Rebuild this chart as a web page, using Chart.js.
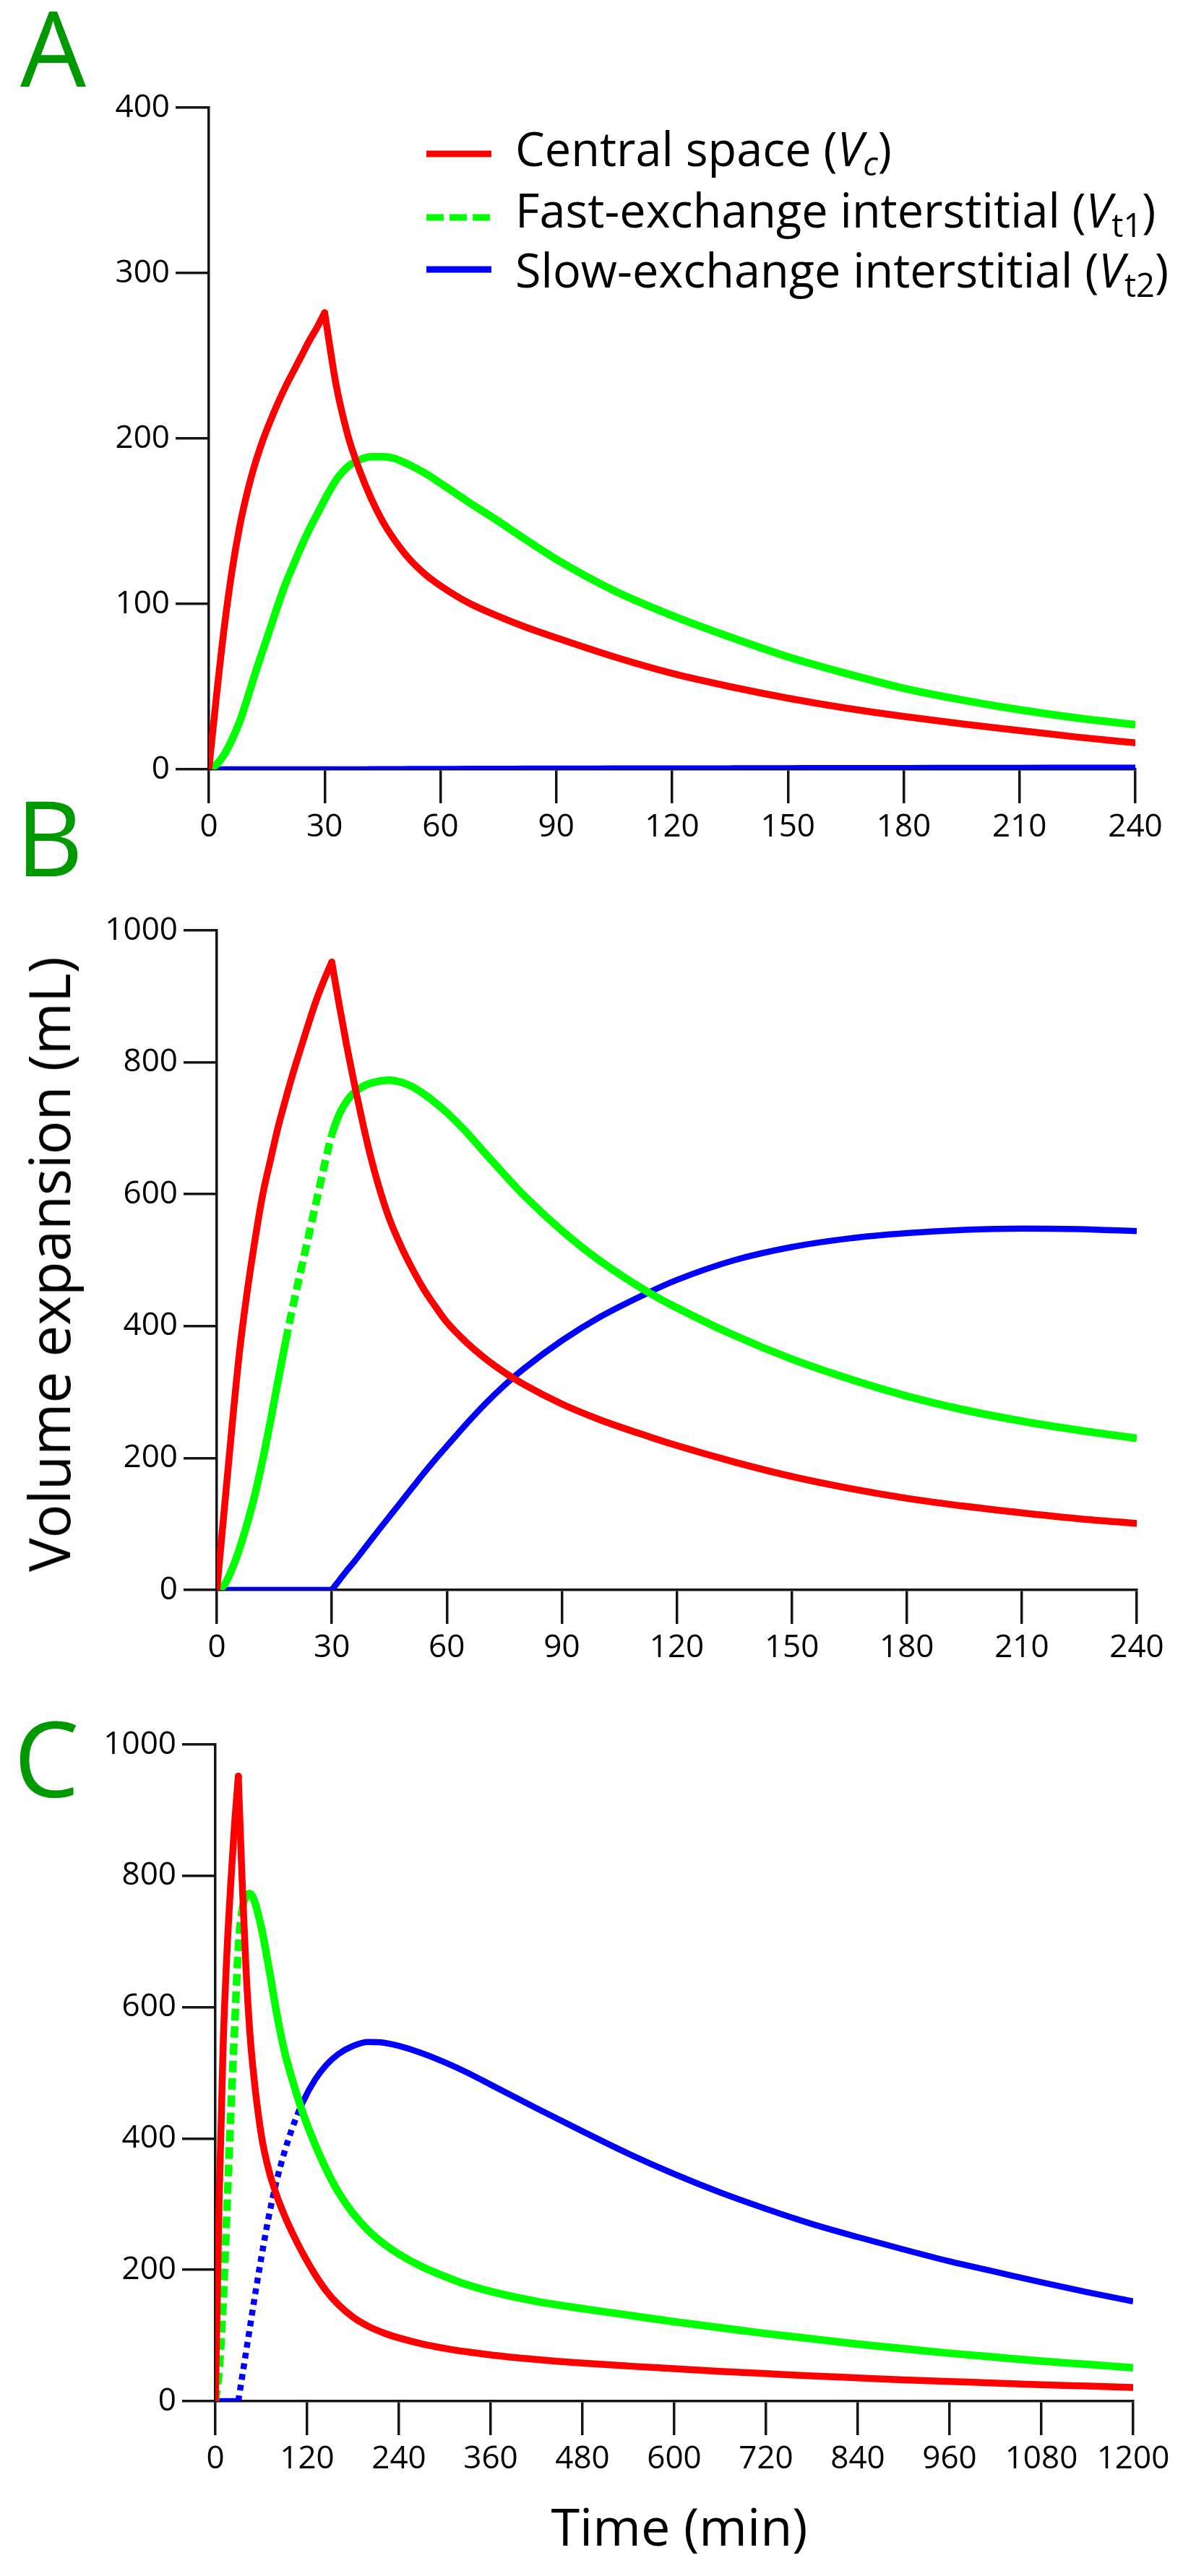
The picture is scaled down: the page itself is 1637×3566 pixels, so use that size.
<!DOCTYPE html>
<html>
<head>
<meta charset="utf-8">
<title>Volume expansion</title>
<script src="https://cdn.jsdelivr.net/npm/chart.js@4.4.1/dist/chart.umd.min.js"></script>
<style>
    html, body { margin: 0; padding: 0; background: #fff; }
    #page { position: relative; width: 1637px; height: 3566px; overflow: hidden; font-family: 'Open Sans', sans-serif; }
    .panel { position: absolute; left: 0; width: 1637px; }
    .letter { position: absolute; font-size: 144px; line-height: 1; color: #009900; }
    .axis-title { position: absolute; line-height: 1; color: #000; white-space: nowrap; transform: translate(-50%, -50%); }
</style>
</head>
<body>
<div id="page">
    <div class="letter" style="left:28px;top:-8px">A</div>
    <div class="letter" style="left:22px;top:1085px">B</div>
    <div class="letter" style="left:19px;top:2360px">C</div>

    <div class="panel" style="top:60px;height:1125px"><canvas id="chartA"></canvas></div>
    <div class="panel" style="top:1200px;height:1121px"><canvas id="chartB"></canvas></div>
    <div class="panel" style="top:2330px;height:1114px"><canvas id="chartC"></canvas></div>

    <div class="axis-title" style="left:67px;top:1750px;font-size:78px;transform:translate(-50%,-50%) rotate(-90deg)">Volume expansion (mL)</div>
    <div class="axis-title" style="left:940px;top:3496px;font-size:72px">Time (min)</div>
</div>
<script>
// infusion stops at 30 min
const infusionEnd = 30;

const seriesColors = ['rgb(255,0,0)', 'rgb(0,255,0)', 'rgb(0,0,255)'];

// legend text, split into plain / italic / subscript parts
const legendCentral = [['Central space (', ''], ['V', 'i'], ['c', 'i sub'], [')', '']];
const legendFast = [['Fast-exchange interstitial (', ''], ['V', 'i'], ['t1', 'sub'], [')', '']];
const legendSlow = [['Slow-exchange interstitial (', ''], ['V', 'i'], ['t2', 'sub'], [')', '']];

// tick labels
const xTicksShort = [0, 30, 60, 90, 120, 150, 180, 210, 240];
const xTicksLong = [0, 120, 240, 360, 480, 600, 720, 840, 960, 1080, 1200];
const yTicksA = [0, 100, 200, 300, 400];
const yTicksBC = [0, 200, 400, 600, 800, 1000];

// panel A
const timeA = [0, 2, 4, 6, 8, 10, 12, 14, 16, 18, 20, 22, 24, 26, 28, 30, 33, 36, 39, 42, 45, 48, 52, 56, 60, 67, 75, 82, 90, 105, 120, 135, 150, 165, 180, 195, 210, 225, 240];
const centralA = [0, 45, 86, 120, 147, 168, 185, 199, 211, 222, 232, 241, 250, 259, 267, 276, 232, 202, 181, 164, 150, 139, 127, 118, 111, 101, 92.5, 86, 79.5, 68, 58, 50, 43, 37, 32, 27.5, 23.5, 19.5, 16];
const fastA = [0, 3, 9, 18, 29, 43, 58, 72, 86, 100, 113, 124, 135, 145, 154, 163, 175, 183, 187, 189, 189, 188, 184, 179, 173, 162, 150, 139, 127, 108, 93, 80, 68, 58, 49, 42, 36, 31, 27];
const slowA = [0, 0, 0, 0, 0, 0, 0, 0, 0, 0, 0, 0, 0, 0, 0, 0, 0, 0, 0, 0.1, 0.1, 0.1, 0.2, 0.2, 0.2, 0.3, 0.3, 0.4, 0.4, 0.5, 0.6, 0.6, 0.7, 0.8, 0.8, 0.9, 0.9, 1, 1];

// panel B
const timeB = [0, 2, 4, 6, 8, 10, 12, 14, 16, 18, 20, 22, 24, 26, 28, 30, 32, 34, 36, 38, 40, 42, 45, 48, 51, 54, 57, 60, 65, 70, 75, 80, 90, 100, 113, 120, 135, 150, 165, 180, 195, 210, 225, 240];
const centralB = [0, 125, 250, 365, 455, 532, 600, 652, 702, 745, 786, 823, 860, 895, 925, 952, 885, 822, 764, 710, 660, 617, 563, 522, 487, 456, 430, 406, 376, 351, 330, 312, 282, 258, 232, 219, 194, 172, 154, 139, 127, 117, 108, 101];
const fastB = [0, 8, 32, 64, 102, 146, 198, 256, 318, 378, 434, 486, 538, 590, 642, 690, 722, 742, 755, 763, 768, 771, 773, 770, 763, 752, 739, 724, 695, 662, 630, 599, 545, 499, 450, 428, 386, 350, 320, 294, 273, 256, 242, 230];
const slowB = [0, 0, 0, 0, 0, 0, 0, 0, 0, 0, 0, 0, 0, 0, 0, 0, 15, 30, 44, 59, 74, 89, 111, 133, 155, 177, 198, 218, 251, 282, 310, 335, 378, 414, 452, 470, 500, 520, 533, 541, 546, 548, 547, 544];

// panel C
const timeC = [0, 5, 10, 15, 20, 25, 30, 35, 40, 45, 50, 60, 70, 80, 90, 100, 115, 130, 145, 160, 180, 200, 220, 240, 270, 300, 330, 360, 420, 480, 540, 600, 660, 720, 780, 840, 900, 960, 1020, 1080, 1140, 1200];
const centralC = [0, 308, 535, 680, 786, 877, 952, 793, 660, 563, 498, 406, 351, 314, 284, 258, 223.5, 193.5, 168, 148, 128, 114, 104, 96.4, 87.4, 80.5, 75, 70.5, 63.5, 58, 53.5, 49.5, 45.5, 42, 38.5, 35.5, 32.5, 30, 27.5, 25, 23, 21];
const fastC = [0, 48, 146, 287, 434, 564, 690, 748, 768, 773, 765, 722, 660, 592, 535, 492, 437, 392, 353, 320, 286, 260, 240, 224, 205, 190, 177, 167, 152, 141, 131, 121, 112, 103, 95, 87, 80, 73, 67, 61, 56, 51];
const slowC = [0, 0, 0, 0, 0, 0, 0, 37, 74, 111, 148, 218, 282, 335, 378, 414, 457, 489, 512, 528, 541, 547, 546, 541, 530, 516, 500, 482, 446, 411, 377, 346, 318, 293, 270, 250, 231, 213, 197, 181, 166, 152];

Chart.defaults.font.family = "'Open Sans', sans-serif";
Chart.defaults.color = '#000';

const axisColor = '#151515';

// dashed only between two times
const dashBetween = (range, pattern) => {
    if (!range) return {};
    return {
        borderDash: ctx => (ctx.p0.parsed.x >= range[0] && ctx.p1.parsed.x <= range[1]) ? pattern : undefined
    };
};

const buildDatasets = (times, central, fast, slow, opts) => {
    const k = times.indexOf(infusionEnd);
    const toPoints = values => times.map((t, i) => ({ x: t, y: values[i] }));
    const c = toPoints(central);
    const f = toPoints(fast);
    const s = toPoints(slow);
    const base = {
        pointRadius: 0,
        fill: false,
        cubicInterpolationMode: 'monotone',
        borderCapStyle: 'round',
        borderJoinStyle: 'round'
    };
    return [
        { ...base, data: c.slice(0, k + 1), borderColor: seriesColors[0], borderWidth: 9.5 },
        { ...base, data: c.slice(k), borderColor: seriesColors[0], borderWidth: 9.5 },
        { ...base, data: f, borderColor: seriesColors[1], borderWidth: 10.5, borderCapStyle: 'butt', segment: dashBetween(opts.fastDash, [16, 8]) },
        { ...base, data: s.slice(0, k + 1), borderColor: seriesColors[2], borderWidth: 8.5 },
        { ...base, data: s.slice(k), borderColor: seriesColors[2], borderWidth: 8.5, borderCapStyle: 'butt', segment: dashBetween(opts.slowDash, [8, 7]) }
    ];
};

// legend drawn inside panel A, with italic V and subscripts
const legendPlugin = {
    id: 'seriesLegend',
    afterDatasetsDraw(chart) {
        const { ctx, chartArea } = chart;
        const size = 66;
        const items = [
            { parts: legendCentral, color: seriesColors[0], dash: [], lineY: 64, baseY: 81 },
            { parts: legendFast, color: seriesColors[1], dash: [24, 8], lineY: 152, baseY: 166 },
            { parts: legendSlow, color: seriesColors[2], dash: [], lineY: 224, baseY: 249 }
        ];
        const setFont = style => {
            const sub = style.includes('sub');
            const italic = style.includes('i');
            ctx.font = `${italic ? 'italic ' : ''}${sub ? Math.round(size * 0.7) : size}px 'Open Sans'`;
            return sub;
        };
        const measure = parts => parts.reduce((w, [text, style]) => {
            setFont(style);
            return w + ctx.measureText(text).width;
        }, 0);

        ctx.save();
        const widest = Math.max(...items.map(it => measure(it.parts)));
        const squeeze = Math.min(1, 904 / widest);

        items.forEach(it => {
            const y = chartArea.top + it.lineY;
            ctx.beginPath();
            ctx.setLineDash(it.dash);
            ctx.strokeStyle = it.color;
            ctx.lineWidth = 9;
            ctx.moveTo(590, y);
            ctx.lineTo(680, y);
            ctx.stroke();

            ctx.save();
            ctx.translate(713, chartArea.top + it.baseY);
            ctx.scale(squeeze, 1);
            ctx.fillStyle = '#000';
            ctx.textBaseline = 'alphabetic';
            let x = 0;
            it.parts.forEach(([text, style]) => {
                const sub = setFont(style);
                ctx.fillText(text, x, sub ? size * 0.2 : 0);
                x += ctx.measureText(text).width;
            });
            ctx.restore();
        });
        ctx.restore();
    }
};

const makeChart = (id, datasets, cfg) => {
    const axisGrid = len => ({
        display: true,
        drawOnChartArea: false,
        drawTicks: true,
        tickLength: len,
        tickWidth: 3.5,
        tickColor: axisColor,
        lineWidth: 3.5,
        color: axisColor
    });
    return new Chart(document.getElementById(id), {
        type: 'line',
        data: { datasets: datasets },
        options: {
            animation: false,
            responsive: true,
            maintainAspectRatio: false,
            events: [],
            layout: { padding: { top: cfg.padTop, right: cfg.padRight, left: 0, bottom: 0 } },
            plugins: { legend: { display: false }, tooltip: { enabled: false } },
            scales: {
                x: {
                    type: 'linear',
                    min: cfg.xTicks[0],
                    max: cfg.xTicks[cfg.xTicks.length - 1],
                    afterBuildTicks: scale => { scale.ticks = cfg.xTicks.map(v => ({ value: v })); },
                    afterFit: scale => { scale.height = 120; },
                    grid: axisGrid(47),
                    border: { display: true, color: axisColor, width: 3.5 },
                    ticks: { font: { size: 44 }, color: '#000', padding: 7, maxRotation: 0, autoSkip: false, callback: v => String(v) }
                },
                y: {
                    type: 'linear',
                    min: cfg.yTicks[0],
                    max: cfg.yTicks[cfg.yTicks.length - 1],
                    afterBuildTicks: scale => { scale.ticks = cfg.yTicks.map(v => ({ value: v })); },
                    afterFit: scale => { scale.width = cfg.left; },
                    grid: axisGrid(46),
                    border: { display: true, color: axisColor, width: 3.5 },
                    ticks: { font: { size: 44 }, color: '#000', padding: 8, autoSkip: false, callback: v => String(v) }
                }
            }
        },
        plugins: cfg.plugins || []
    });
};

makeChart('chartA', buildDatasets(timeA, centralA, fastA, slowA, {}), {
    xTicks: xTicksShort, yTicks: yTicksA, left: 289, padTop: 89, padRight: 66, plugins: [legendPlugin]
});
makeChart('chartB', buildDatasets(timeB, centralB, fastB, slowB, { fastDash: [18, 30] }), {
    xTicks: xTicksShort, yTicks: yTicksBC, left: 300, padTop: 88, padRight: 64
});
makeChart('chartC', buildDatasets(timeC, centralC, fastC, slowC, { fastDash: [0, 35], slowDash: [30, 115] }), {
    xTicks: xTicksLong, yTicks: yTicksBC, left: 298, padTop: 85, padRight: 69
});
</script>
</body>
</html>
